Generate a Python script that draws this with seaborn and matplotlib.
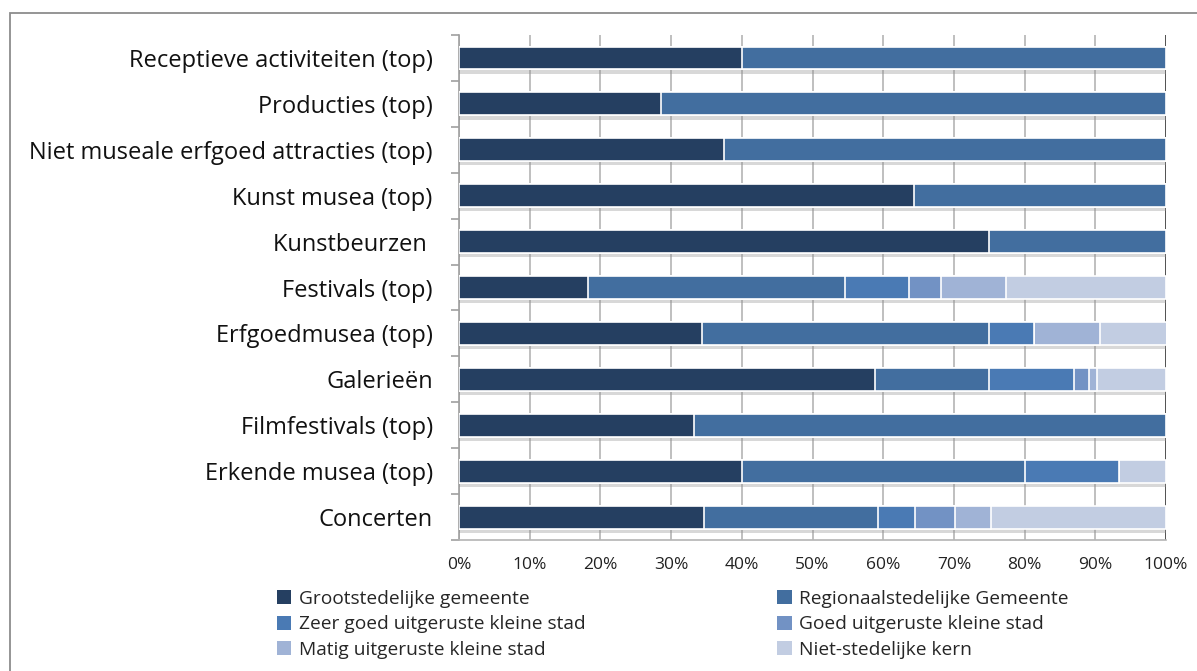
import numpy as np
import pandas as pd
import seaborn as sns
import matplotlib.pyplot as plt
import matplotlib.patheffects as pe
from matplotlib.patches import Patch, Rectangle
from matplotlib.ticker import PercentFormatter, FixedLocator

categories = [
	"Receptieve activiteiten (top)",
	"Producties (top)",
	"Niet museale erfgoed attracties (top)",
	"Kunst musea (top)",
	"Kunstbeurzen ",
	"Festivals (top)",
	"Erfgoedmusea (top)",
	"Galerieën",
	"Filmfestivals (top)",
	"Erkende musea (top)",
	"Concerten",
]

series_names = [
	"Grootstedelijke gemeente",
	"Regionaalstedelijke Gemeente",
	"Zeer goed uitgeruste kleine stad",
	"Goed uitgeruste kleine stad",
	"Matig uitgeruste kleine stad",
	"Niet-stedelijke kern",
]

grootstedelijk = [40.0, 28.6, 37.5, 64.4, 75.0, 18.2, 34.4, 58.8, 33.3, 40.0, 34.7]
regionaalstedelijk = [60.0, 71.4, 62.5, 35.6, 25.0, 36.4, 40.6, 16.2, 66.7, 40.0, 24.6]
zeer_goed = [0, 0, 0, 0, 0, 9.1, 6.3, 12.0, 0, 13.3, 5.2]
goed = [0, 0, 0, 0, 0, 4.5, 0, 2.1, 0, 0, 5.7]
matig = [0, 0, 0, 0, 0, 9.1, 9.4, 1.2, 0, 0, 5.0]
niet_stedelijk = [0, 0, 0, 0, 0, 22.7, 9.4, 9.7, 0, 6.7, 24.8]

colors = ["#253f61", "#426e9f", "#4a7ab4", "#7292c4", "#a0b3d6", "#c2cde2"]

sns.set_style("white")
plt.rcParams['font.family'] = ['Open Sans', 'DejaVu Sans']

df = pd.DataFrame({
	"categorie": categories,
	series_names[0]: grootstedelijk,
	series_names[1]: regionaalstedelijk,
	series_names[2]: zeer_goed,
	series_names[3]: goed,
	series_names[4]: matig,
	series_names[5]: niet_stedelijk,
})

# cumulative sums so the stacked segments can be drawn back to front
cum = df[series_names].cumsum(axis=1)

fig = plt.figure(figsize=(11.97, 6.71), dpi=100)
ax = fig.add_axes([0.3835, 0.1952, 0.5906, 0.7526])

for i in range(len(series_names) - 1, -1, -1):
	n_before = len(ax.patches)
	sns.barplot(
		x=cum[series_names[i]], y=df["categorie"], orient="h",
		color=colors[i], width=0.5, edgecolor="white", linewidth=1.2,
		ax=ax, zorder=3, saturation=1,
	)
	if i == len(series_names) - 1:
		# excel-like drop shadow under the full bars
		for p in ax.patches[n_before:]:
			p.set_path_effects([
				pe.SimplePatchShadow(offset=(0, -3), shadow_rgbFace="#909090", alpha=0.35),
				pe.Normal(),
			])

ax.set_xlim(0, 100)
ax.set_ylim(len(categories) - 0.5, -0.5)
ax.xaxis.set_major_locator(FixedLocator(np.arange(0, 101, 10)))
ax.xaxis.set_major_formatter(PercentFormatter(decimals=0))
ax.grid(axis="x", color="#b4b4b4", linewidth=1.2, zorder=0)
ax.set_axisbelow(True)
ax.set_xlabel("")
ax.set_ylabel("")

ax.tick_params(axis="x", labelsize=12.5, length=5, color="#b4b4b4", width=1.2, pad=7, labelcolor="#222222")
ax.tick_params(axis="y", labelsize=17, length=0, pad=19, labelcolor="#111111")
ax.yaxis.set_minor_locator(FixedLocator(np.arange(-0.5, len(categories), 1)))
ax.tick_params(axis="y", which="minor", length=6, color="#a0a0a0", width=1.2, left=True)

for side in ["top", "right"]:
	ax.spines[side].set_visible(False)
ax.spines["left"].set_color("#a0a0a0")
ax.spines["bottom"].set_color("#b4b4b4")
ax.spines["left"].set_linewidth(1.2)
ax.spines["bottom"].set_linewidth(1.2)
ax.axvline(100, color="#404040", linewidth=1.2, zorder=1)

# legend rows follow the original order, matplotlib fills column by column
order = [0, 2, 4, 1, 3, 5]
handles = [Patch(facecolor=colors[k], edgecolor="none", label=series_names[k]) for k in order]
fig.legend(
	handles=handles, loc="upper left", bbox_to_anchor=(0.225, 0.1325), ncol=2,
	frameon=False, fontsize=13.8, handlelength=0.75, handleheight=0.75,
	handletextpad=0.4, columnspacing=10.0, labelspacing=0.4, borderaxespad=0,
)

fig.add_artist(Rectangle((0.0084, -0.02), 1.1, 0.981 + 0.02, transform=fig.transFigure,
	fill=False, edgecolor="#8c8c8c", linewidth=1.3))

plt.savefig("out.png", dpi=100)
